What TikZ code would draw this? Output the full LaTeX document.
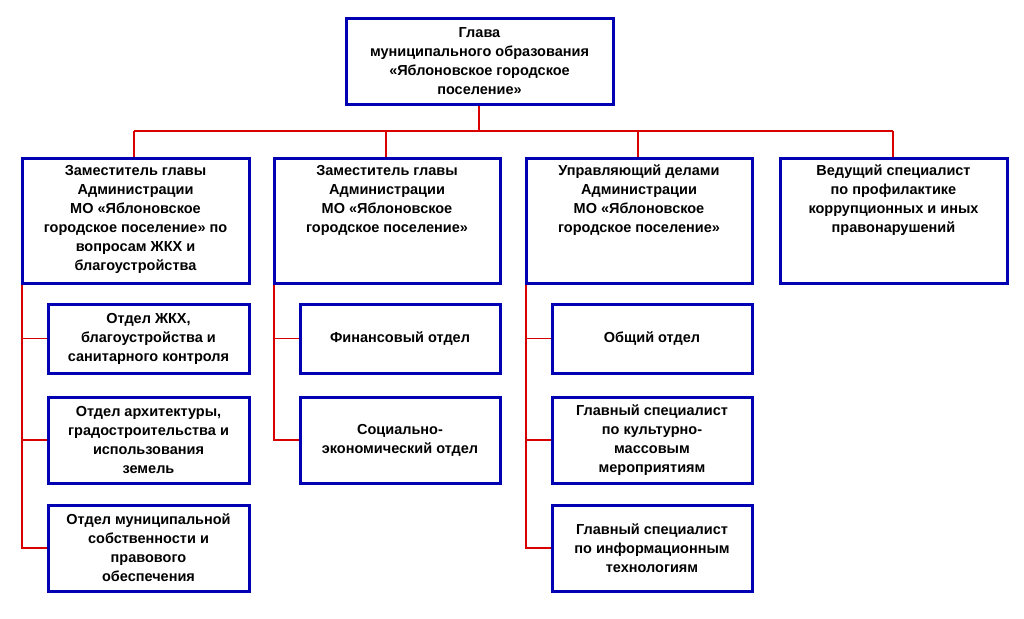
\documentclass[tikz,border=0pt]{standalone}
\usepackage{fontspec}
\setmainfont{Liberation Sans}
\begin{document}
\begin{tikzpicture}[x=1pt,y=-1pt,
  box/.style={draw=blue!70!black,line width=3pt,fill=white,align=center,font=\bfseries\fontsize{14.5}{19}\selectfont,inner sep=1pt},
  link/.style={draw=red!85!black,line width=1.5pt}]
\useasboundingbox (0,0) rectangle (1024,618);
\newcommand{\bx}[6]{\node[box,minimum width=#3-#2,minimum height=#5-#4] (#1) at ({(#2+#3)/2},{(#4+#5)/2}) {#6};}
\newcommand{\tbx}[6]{\node[box,minimum width=#3-#2,minimum height=#5-#4] (#1) at ({(#2+#3)/2},{(#4+#5)/2}) {};
  \node[align=center,anchor=north,font=\bfseries\fontsize{14.5}{19}\selectfont,inner sep=1pt] (#1t) at ({(#2+#3)/2},{#4+6}) {#6};}
\coordinate (bus) at (479,131);
\coordinate (busl) at (134,131);
\coordinate (busr) at (893,131);
\draw[link] (busl) -- (busr);
\draw[link] (479,104) -- (bus);
\foreach \x in {134,386,638,893}{\draw[link] (\x,131) -- (\x,158);}
\draw[link] (22,283) |- (48,338.5);
\draw[link] (22,283) |- (48,440);
\draw[link] (22,283) |- (48,548);
\draw[link] (274,283) |- (300,338.5);
\draw[link] (274,283) |- (300,440);
\draw[link] (526,283) |- (552,338.5);
\draw[link] (526,283) |- (552,440);
\draw[link] (526,283) |- (552,548);
\bx{top}{346}{613}{19}{104}{Глава\\муниципального образования\\«Яблоновское городское\\поселение»}
\tbx{a}{22}{249}{158}{283}{Заместитель главы\\Администрации\\МО «Яблоновское\\городское поселение» по\\вопросам ЖКХ и\\благоустройства}
\tbx{b}{274}{500}{158}{283}{Заместитель главы\\Администрации\\МО «Яблоновское\\городское поселение»}
\tbx{c}{526}{752}{158}{283}{Управляющий делами\\Администрации\\МО «Яблоновское\\городское поселение»}
\tbx{d}{780}{1007}{158}{283}{Ведущий специалист\\по профилактике\\коррупционных и иных\\правонарушений}
\bx{a1}{48}{249}{304}{373}{Отдел ЖКХ,\\благоустройства и\\санитарного контроля}
\bx{a2}{48}{249}{397}{483}{Отдел архитектуры,\\градостроительства и\\использования\\земель}
\bx{a3}{48}{249}{505}{591}{Отдел муниципальной\\собственности и\\правового\\обеспечения}
\bx{b1}{300}{500}{304}{373}{Финансовый отдел}
\bx{b2}{300}{500}{397}{483}{Социально-\\экономический отдел}
\bx{c1}{552}{752}{304}{373}{Общий отдел}
\bx{c2}{552}{752}{397}{483}{Главный специалист\\по культурно-\\массовым\\мероприятиям}
\bx{c3}{552}{752}{505}{591}{Главный специалист\\по информационным\\технологиям}
\end{tikzpicture}
\end{document}
